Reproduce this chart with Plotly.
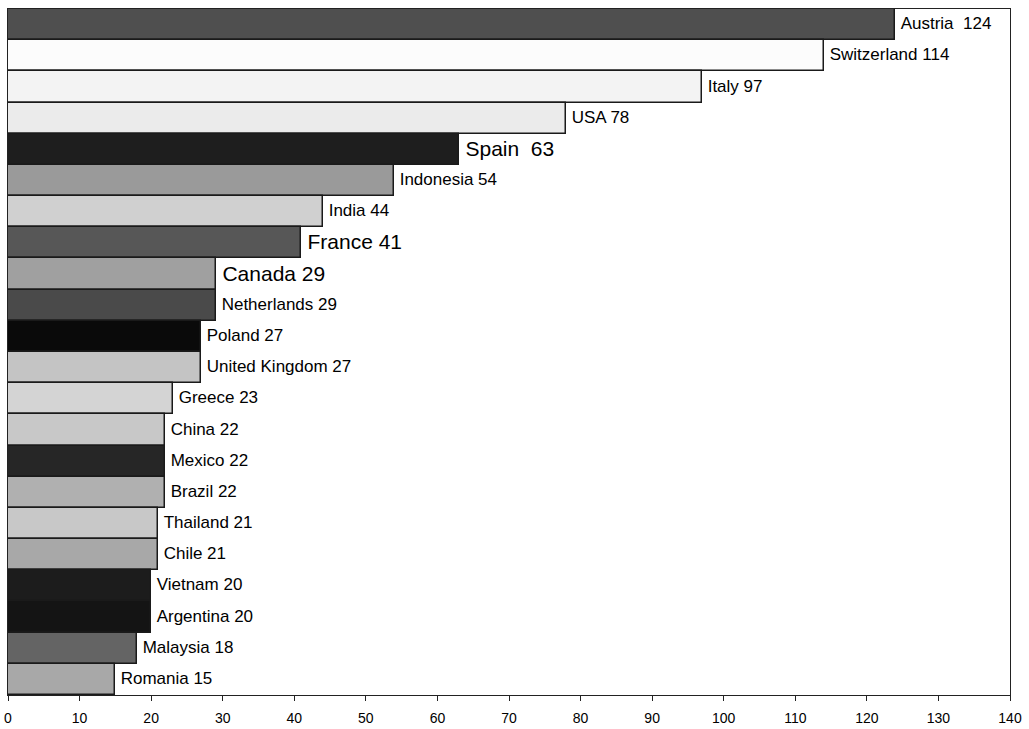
import plotly.graph_objects as go

countries = ["Austria", "Switzerland", "Italy", "USA", "Spain", "Indonesia", "India",
             "France", "Canada", "Netherlands", "Poland", "United Kingdom", "Greece",
             "China", "Mexico", "Brazil", "Thailand", "Chile", "Vietnam", "Argentina",
             "Malaysia", "Romania"]
values = [124, 114, 97, 78, 63, 54, 44, 41, 29, 29, 27, 27, 23, 22, 22, 22, 21, 21, 20, 20, 18, 15]
labels = ["Austria\u00a0\u00a0124", "Switzerland 114", "Italy 97", "USA 78", "Spain\u00a0\u00a063",
          "Indonesia 54", "India 44", "France 41", "Canada 29", "Netherlands 29", "Poland 27",
          "United Kingdom 27", "Greece 23", "China 22", "Mexico 22", "Brazil 22", "Thailand 21",
          "Chile 21", "Vietnam 20", "Argentina 20", "Malaysia 18", "Romania 15"]
big = {"Spain", "France", "Canada"}

colors = ["#4f4f4f", "#fcfcfc", "#f3f3f3", "#ebebeb", "#1e1e1e", "#9a9a9a", "#d0d0d0",
          "#575757", "#a0a0a0", "#4a4a4a", "#0a0a0a", "#c4c4c4", "#d4d4d4", "#c8c8c8",
          "#262626", "#b0b0b0", "#c8c8c8", "#a8a8a8", "#1c1c1c", "#141414", "#646464", "#a8a8a8"]
sizes = [21 if c in big else 17 for c in countries]

fig = go.Figure(go.Bar(
    x=values, y=countries, orientation="h",
    text=["\u2009" + t for t in labels],
    textposition="outside", cliponaxis=False, constraintext="none",
    textfont=dict(size=sizes, color="black", family="Arial, Liberation Sans, sans-serif"),
    marker=dict(color=colors, line=dict(color="#1a1a1a", width=1.5)),
    hoverinfo="skip",
))

fig.update_layout(
    width=1029, height=729,
    margin=dict(l=8, r=19, t=9, b=34, autoexpand=False),
    paper_bgcolor="white", plot_bgcolor="white",
    bargap=0, showlegend=False,
    font=dict(family="Arial, Liberation Sans, sans-serif", color="black"),
)
fig.update_xaxes(range=[0, 140], dtick=10, tick0=0, showgrid=False, zeroline=False,
                 showline=True, linecolor="#222", linewidth=1, mirror=True,
                 ticks="outside", ticklen=5, tickcolor="#222", automargin=False,
                 ticklabelstandoff=5,
                 tickfont=dict(size=14, color="black"))
fig.update_yaxes(autorange="reversed", showticklabels=False, showgrid=False, zeroline=False,
                 showline=True, linecolor="#222", linewidth=1, mirror=True, ticks="",
                 automargin=False)

fig.write_html("out.html")
